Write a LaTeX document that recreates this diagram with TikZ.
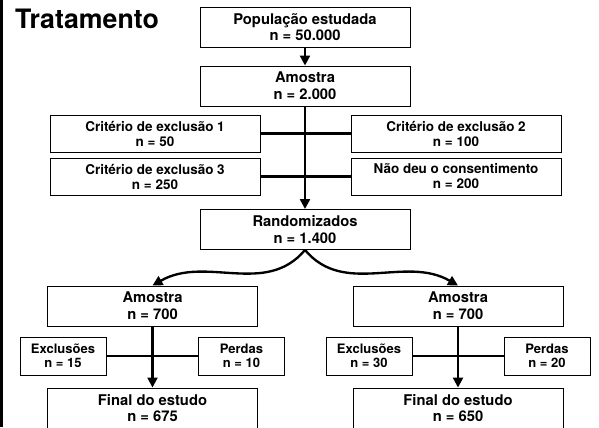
\documentclass[tikz,border=0pt]{standalone}
\usepackage{fontspec}
\setmainfont{TeX Gyre Heros}
\usetikzlibrary{arrows.meta}

\tikzset{
  bigbox/.style={draw, line width=0.8pt, minimum width=6.3cm, minimum height=1.2cm,
    inner sep=0pt, align=center, font=\fontsize{12.6}{14.2}\selectfont\bfseries},
  critbox/.style={bigbox, minimum height=1.11cm, font=\fontsize{11.5}{12.8}\selectfont\bfseries},
  smallbox/.style={bigbox, minimum width=2.58cm, minimum height=1.14cm,
    font=\fontsize{11.1}{11.6}\selectfont\bfseries},
  flow/.style={line width=2pt, -{Triangle[length=0.3cm,width=0.3cm]}},
  link/.style={line width=2pt}
}

\begin{document}
\begin{tikzpicture}[x=0.03cm, y=-0.03cm]
	\useasboundingbox (0,0) rectangle (599,427);
	\fill (0,0) rectangle (3,427);
	\node[anchor=base west, inner sep=0pt, font=\fontsize{22.8}{24}\selectfont\bfseries] (titulo) at (15,29) {Tratamento};
	% topo
	\node[bigbox] (pop) at (305,27) {População estudada\\n = 50.000};
	\node[bigbox] (amostra) at (305,86) {Amostra\\n = 2.000};
	\node[critbox] (crit1) at (155,133.5) {Critério de exclusão 1\\n = 50};
	\node[critbox] (crit2) at (456,133.5) {Critério de exclusão 2\\n = 100};
	\node[critbox] (crit3) at (155,176.5) {Critério de exclusão 3\\n = 250};
	\node[critbox] (consent) at (456,176.5) {Não deu o consentimento\\n = 200};
	\node[bigbox] (rand) at (305,229.5) {Randomizados\\n = 1.400};
	% ramos
	\node[bigbox] (amL) at (152.5,306) {Amostra\\n = 700};
	\node[bigbox] (amR) at (458,306) {Amostra\\n = 700};
	\node[smallbox] (excL) at (63,356) {Exclusões\\n = 15};
	\node[smallbox] (perL) at (241.5,356) {Perdas\\n = 10};
	\node[smallbox] (excR) at (369,356) {Exclusões\\n = 30};
	\node[smallbox] (perR) at (547,356) {Perdas\\n = 20};
	\node[bigbox] (finL) at (152.5,408) {Final do estudo\\n = 675};
	\node[bigbox] (finR) at (458,408) {Final do estudo\\n = 650};
	% ligacoes
	\draw[flow] (pop) -- (amostra);
	\draw[link] (crit1) -- (crit2);
	\draw[link] (crit3) -- (consent);
	\draw[flow] (amostra) -- (rand);
	\draw[flow] (rand.south) to[out=-130, in=30] (amL.north);
	\draw[flow] (rand.south) to[out=-50, in=150] (amR.north);
	\draw[link] (excL) -- (perL);
	\draw[link] (excR) -- (perR);
	\draw[flow] (amL) -- (finL);
	\draw[flow] (amR) -- (finR);
\end{tikzpicture}
\end{document}
